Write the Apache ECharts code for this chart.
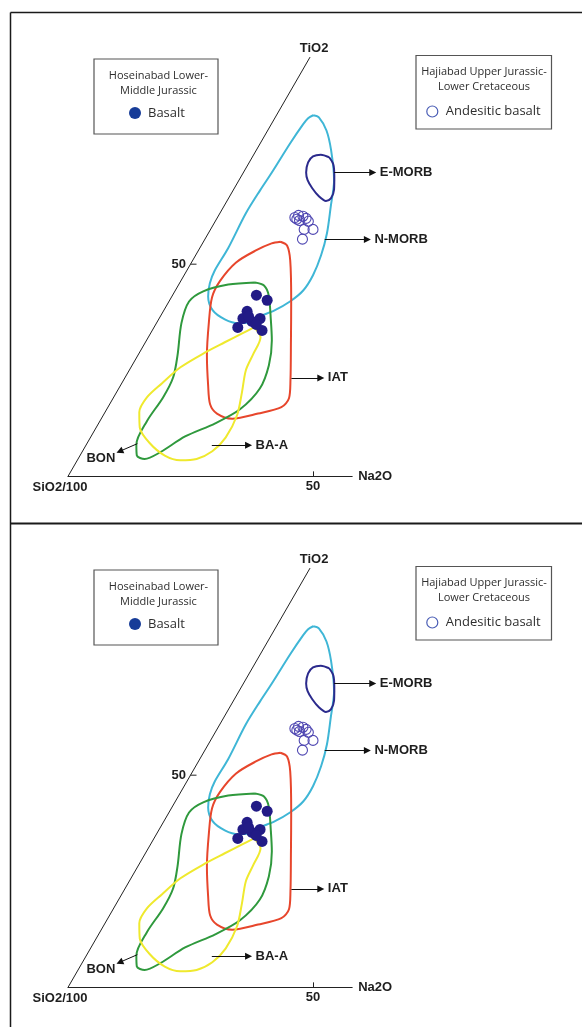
<!DOCTYPE html>
<html><head><meta charset="utf-8">
<script src="https://cdn.jsdelivr.net/npm/echarts@6/dist/echarts.min.js"></script>
<style>html,body{margin:0;padding:0;background:#fff}#chart{width:582px;height:1027px}</style>
</head><body><div id="chart"></div>
<script>
// Ternary compositions as [Na2O %, TiO2 %]; SiO2/100 = 100 - Na2O - TiO2
const nMorbField = [[7.5,85.1],[8.9,84.6],[12.0,81.5],[15.3,76.8],[19.4,69.8],[21.9,63.4],[24.2,57.3],[25.6,52.1],[26.3,47.4],[26.1,43.8],[24.7,41.2],[22.6,39.1],[20.3,37.7],[18.6,36.3],[16.7,36.1],[13.5,37.0],[10.0,39.1],[7.4,42.4],[6.2,45.5],[5.7,48.5],[5.8,53.7],[5.3,62.0],[5.5,67.4],[5.8,71.6],[6.1,78.5],[6.5,83.0],[6.8,84.4],[7.5,85.1]];
const eMorbField = [[15.7,75.2],[17.4,73.5],[19.0,70.7],[20.5,67.6],[20.9,65.5],[20.2,64.9],[18.2,66.0],[15.9,67.9],[14.0,69.8],[12.8,71.6],[12.0,74.0],[12.3,75.4],[13.7,75.8],[15.7,75.2]];
const iatField = [[15.7,55.3],[17.5,54.4],[19.9,50.9],[24.8,41.5],[29.5,32.0],[34.1,22.6],[35.9,18.4],[35.4,16.3],[31.4,14.8],[26.7,13.6],[23.0,14.8],[20.5,17.0],[17.9,21.4],[14.1,28.5],[10.6,36.3],[8.3,42.2],[8.0,46.0],[9.1,50.4],[11.8,53.3],[14.1,54.9],[15.7,55.3]];
const bonField = [[15.3,45.7],[17.5,45.0],[19.6,42.7],[23.0,36.8],[25.6,32.0],[27.9,26.2],[28.8,20.7],[27.2,15.8],[23.8,12.5],[19.2,9.4],[16.0,5.7],[13.6,4.1],[11.6,4.9],[10.2,7.5],[9.6,13.0],[10.1,18.6],[9.8,23.3],[8.1,28.5],[5.1,36.1],[4.1,41.2],[5.8,43.6],[10.1,45.2],[15.3,45.7]];
const baaField = [[20.4,35.1],[22.9,32.8],[23.4,28.8],[23.8,25.0],[25.6,19.8],[27.3,14.4],[27.6,9.2],[26.5,5.9],[24.2,4.1],[21.0,3.8],[17.3,4.9],[12.8,7.8],[8.9,11.5],[7.0,15.1],[6.8,18.6],[8.2,21.9],[10.1,25.7],[13.4,29.2],[16.2,31.6],[18.7,33.7],[20.4,35.1]];
const basaltPoints = [[17.1,42.7],[19.9,41.5],[17.1,38.9],[17.1,37.2],[19.3,36.5],[20.6,37.2],[17.1,35.1],[22.4,34.4],[20.5,35.8],[18.0,37.7]];
const andesiticBasaltPoints = [[15.8,61.0],[16.3,61.5],[17.3,61.3],[18.2,60.8],[17.1,60.3],[19.0,60.1],[19.1,58.2],[20.9,58.2],[19.9,55.9],[16.4,60.6]];
const arrowNames = ['E-MORB','N-MORB','IAT','BA-A','BON'];
const arrowFrom = [[18.5,71.6],[24.5,55.8],[34.0,23.2],[25.7,7.3],[10.3,7.7]];
const arrowTo = [[26.4,71.6],[33.2,55.8],[40.0,23.2],[33.2,7.3],[7.6,5.9]];
const na2oTicks = [50];
const tio2Ticks = [50];
const leftEdgeTi = [0, 98.8];
const baseMaxNa = 58;
const axisNames = {top:'TiO2', left:'SiO2/100', right:'Na2O'};
const legendTitles = ['Hoseinabad Lower-\nMiddle Jurassic', 'Hajiabad Upper Jurassic-\nLower Cretaceous'];

const SQ = Math.sqrt(3)/2;
const toXY = p => [p[0] + p[1]/2, p[1]*SQ];
const PX_PER_UNIT = 4.9;
const boldFont = {fontFamily:'Liberation Sans', fontWeight:'bold', fontSize:13, color:'#1e1e1e'};

const fields = [
  {name:'N-MORB field', data:nMorbField, color:'#3fb6d6'},
  {name:'IAT field', data:iatField, color:'#e7462c'},
  {name:'BON field', data:bonField, color:'#2f993d'},
  {name:'BA-A field', data:baaField, color:'#efe92e'},
  {name:'E-MORB field', data:eMorbField, color:'#2b2a8c'}
];

const panels = [0, 511];
const grid = [], xAxis = [], yAxis = [], series = [], legend = [], graphic = [];

graphic.push({type:'line', shape:{x1:10.5,y1:12.5,x2:582,y2:12.5}, style:{stroke:'#1a1a1a', lineWidth:1.5}});
graphic.push({type:'line', shape:{x1:10.5,y1:12.5,x2:10.5,y2:1027}, style:{stroke:'#1a1a1a', lineWidth:1.5}});
graphic.push({type:'line', shape:{x1:10.5,y1:523.5,x2:582,y2:523.5}, style:{stroke:'#1a1a1a', lineWidth:2}});

panels.forEach((off, i) => {
  grid.push({left:68, top:52+off, width:baseMaxNa*PX_PER_UNIT, height:100*SQ*PX_PER_UNIT, outerBoundsMode:'none', containLabel:false});
  xAxis.push({
    gridIndex:i, type:'value', min:0, max:baseMaxNa,
    axisLine:{show:true, lineStyle:{color:'#222', width:1}},
    axisTick:{show:true, inside:true, length:5, customValues:na2oTicks, lineStyle:{color:'#222'}},
    axisLabel:{show:true, customValues:na2oTicks, margin:4, formatter:v => na2oTicks.includes(v) ? String(v) : '', ...boldFont},
    splitLine:{show:false},
    name:axisNames.right, nameLocation:'end', nameGap:6, nameTextStyle:{...boldFont}
  });
  yAxis.push({gridIndex:i, type:'value', min:0, max:100*SQ, show:false});
  const ax = {xAxisIndex:i, yAxisIndex:i};

  // left (SiO2–TiO2) edge
  series.push({type:'line', ...ax, data:leftEdgeTi.map(t => toXY([0,t])), symbol:'none', lineStyle:{color:'#222', width:1}, silent:true, clip:false, z:1});
  // left ticks
  tio2Ticks.forEach(t => {
    const p = toXY([0,t]);
    series.push({type:'line', ...ax, data:[p, [p[0] + 6/PX_PER_UNIT, p[1]]], symbol:'none', lineStyle:{color:'#222', width:1}, silent:true, clip:false, z:1});
  });

  // fields
  fields.forEach(f => {
    series.push({type:'line', ...ax, name:f.name, data:f.data.map(toXY), smooth:0.3, showSymbol:false, symbol:'none',
      lineStyle:{color:f.color, width:2}, silent:true, clip:false, z:2});
  });

  // arrows + field labels
  series.push({type:'lines', coordinateSystem:'cartesian2d', ...ax, clip:false, silent:true, z:3,
    symbol:['none','triangle'], symbolSize:7,
    lineStyle:{color:'#111', width:1, opacity:1},
    label:{show:true, position:'end', distance:7, formatter:'{b}', ...boldFont},
    data:arrowNames.map((n, k) => ({name:n, coords:[toXY(arrowFrom[k]), toXY(arrowTo[k])],
      label: n === 'BON' ? {offset:[2,4]} : undefined}))
  });

  // axis titles / tick labels
  series.push({type:'scatter', ...ax, silent:true, clip:false, symbolSize:1, itemStyle:{color:'rgba(0,0,0,0)', opacity:1}, z:4,
    label:{show:true, ...boldFont},
    data:[
      {value:toXY([0,leftEdgeTi[1]]), label:{formatter:axisNames.top, position:'top', distance:2, offset:[4,0]}},
      {value:toXY([0,0]), label:{formatter:axisNames.left, position:'bottom', distance:4, offset:[-8,0]}},
      ...tio2Ticks.map(t => ({value:toXY([0,t]), label:{formatter:String(t), position:'left', distance:4}}))
    ]
  });

  // samples
  series.push({type:'scatter', ...ax, name:'Andesitic basalt', data:andesiticBasaltPoints.map(toXY), symbol:'circle', symbolSize:10,
    itemStyle:{color:'rgba(255,255,255,0)', borderColor:'#5048b2', borderWidth:1.1, opacity:1}, clip:false, z:5});
  series.push({type:'scatter', ...ax, name:'Basalt', data:basaltPoints.map(toXY), symbol:'circle', symbolSize:11,
    itemStyle:{color:'#221b86', opacity:1}, clip:false, z:6});

  // legends
  legend.push({left:129, top:106.5+off, padding:0, itemWidth:12, itemHeight:12, selectedMode:false,
    textStyle:{fontFamily:'Open Sans', fontSize:13, color:'#2e2e2e', padding:[0,0,0,2]},
    data:[{name:'Basalt', icon:'circle', itemStyle:{color:'#173c98', borderWidth:0, opacity:1}}]});
  legend.push({left:426.2, top:105+off, padding:0, itemWidth:11, itemHeight:11, selectedMode:false,
    textStyle:{fontFamily:'Open Sans', fontSize:13, color:'#2e2e2e', padding:[0,0,0,3]},
    data:[{name:'Andesitic basalt', icon:'circle', itemStyle:{color:'#fff', borderColor:'#4a5db5', borderWidth:1.2, opacity:1}}]});

  graphic.push({type:'rect', shape:{x:94, y:59+off, width:124, height:75}, style:{fill:'none', stroke:'#555', lineWidth:1.2}});
  graphic.push({type:'rect', shape:{x:416, y:55.5+off, width:135.5, height:73.5}, style:{fill:'none', stroke:'#555', lineWidth:1.2}});
  graphic.push({type:'text', x:158.5, y:68.5+off, style:{text:legendTitles[0], textAlign:'center', align:'center', textVerticalAlign:'top', verticalAlign:'top',
    fontFamily:'Open Sans', fontSize:11, lineHeight:15, fill:'#2e2e2e'}});
  graphic.push({type:'text', x:484, y:64+off, style:{text:legendTitles[1], textAlign:'center', align:'center', textVerticalAlign:'top', verticalAlign:'top',
    fontFamily:'Open Sans', fontSize:11, lineHeight:15, fill:'#2e2e2e'}});
});

const chart = echarts.init(document.getElementById('chart'), null, {renderer:'canvas'});
chart.setOption({backgroundColor:'#fff', animation:false, grid, xAxis, yAxis, series, legend, graphic, tooltip:{show:false}});
</script></body></html>
